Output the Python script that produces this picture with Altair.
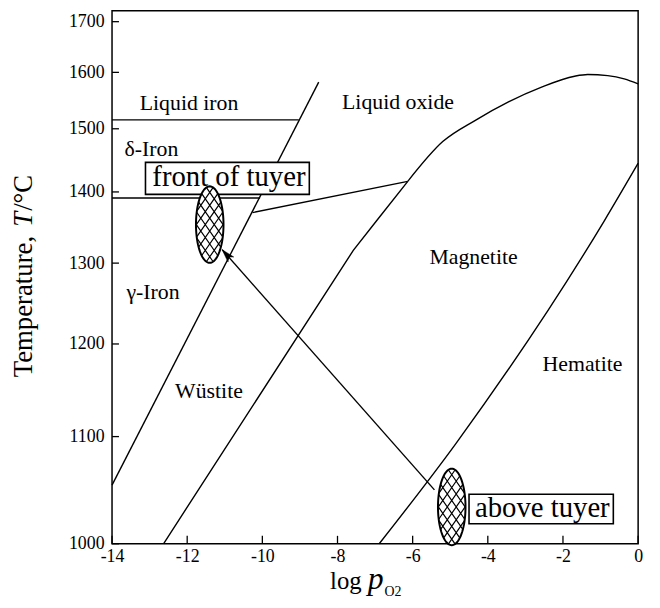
import math
import altair as alt
import pandas as pd

# ---------------- data (log pO2, temperature in deg C) ----------------
A_x = [-14.0, -8.50]
A_T = [1052.8, 1582.0]
LIQ_x = [-14.0, -9.03]
LIQ_T = [1515.0, 1515.0]
DG_x = [-14.0, -10.06]
DG_T = [1391.0, 1391.0]
B_x = [-10.26, -6.13]
B_T = [1369.7, 1416.0]
CL_x = [-12.63, -7.58, -6.96, -6.13]
CL_T = [1000.0, 1317.0, 1358.0, 1416.0]
CC_x = [-6.13, -5.20, -4.32, -3.45, -2.57, -1.69, -1.34, -0.81, -0.37, 0.0]
CC_T = [1416.0, 1478.8, 1514.8, 1546.3, 1572.8, 1592.8, 1596.0, 1594.0, 1588.0, 1578.7]
D_x = [-6.89, -4.85, -0.90, 0.0]
D_T = [1000.0, 1093.0, 1358.0, 1444.0]

ARROW_x = [-5.42, -11.07]
ARROW_T = [1048.4, 1318.0]

ELL_x = [-11.40, -4.96]
ELL_T = [1352.6, 1032.7]

BOX_x = [-13.11, -4.50]
BOX_x2 = [-8.75, -0.66]
BOX_T = [1445.3, 1044.4]
BOX_T2 = [1396.4, 1017.5]
BOX_text = ["front of tuyer", "above tuyer"]
BOX_tx = [-10.89, -2.55]
BOX_tT = [1408.6, 1023.7]

REG_text = ["Liquid iron", "Liquid oxide", "δ-Iron", "γ-Iron", "Wüstite", "Magnetite", "Hematite"]
REG_x = [-11.95, -6.39, -12.95, -12.91, -11.42, -4.38, -1.48]
REG_T = [1531.9, 1533.2, 1454.8, 1254.0, 1139.5, 1298.4, 1169.0]

X_TICKS = [-14, -12, -10, -8, -6, -4, -2, 0]
Y_TICKS = [1000, 1100, 1200, 1300, 1400, 1500, 1600, 1700]

K0 = 273.15


def frame(xs, ts, name):
    return pd.DataFrame({"x": xs, "K": [t + K0 for t in ts], "id": name})


lin_df = pd.concat([
    frame(A_x, A_T, "A"), frame(LIQ_x, LIQ_T, "liq"), frame(DG_x, DG_T, "dg"),
    frame(B_x, B_T, "B"), frame(CL_x, CL_T, "CL"), frame(ARROW_x, ARROW_T, "arrow"),
])
mono_df = pd.concat([frame(CC_x, CC_T, "CC"), frame(D_x, D_T, "D")])
ell_df = frame(ELL_x, ELL_T, "e")
box_df = pd.DataFrame({"x": BOX_x, "x2": BOX_x2,
                       "K": [t + K0 for t in BOX_T], "K2": [t + K0 for t in BOX_T2]})
boxt_df = pd.DataFrame({"x": BOX_tx, "K": [t + K0 for t in BOX_tT], "t": BOX_text})
reg_df = pd.DataFrame({"x": REG_x, "K": [t + K0 for t in REG_T], "t": REG_text})
tip_df = pd.DataFrame({"x": [ARROW_x[1]], "K": [ARROW_T[1] + K0]})
xt_df = pd.DataFrame({"x": X_TICKS})
yt_df = pd.DataFrame({"K": [t + K0 for t in Y_TICKS]})
one = pd.DataFrame({"d": [0]})

# ---------------- glyph shapes ----------------
R = 38.6          # px per unit of the ellipse glyph
RX, RY = 0.36, 1.0
HW, HH = 9.0 / R, 13.0 / R


def ellipse_path(rx, ry, n=80):
    pts = []
    for i in range(n):
        t = 2 * math.pi * i / n
        pts.append((rx * math.cos(t), ry * math.sin(t)))
    return "M" + "L".join(f"{x:.4f},{y:.4f}" for x, y in pts) + "Z"


def hatch_path(rx, ry, w, h):
    segs = []
    B = h / w
    for sgn in (1, -1):
        for k in range(-30, 31):
            c = 2 * k + 1
            A = h * c / 2
            a = 1 / rx ** 2 + B ** 2 / ry ** 2
            b = -2 * A * B / ry ** 2
            cc = A ** 2 / ry ** 2 - 1
            disc = b * b - 4 * a * cc
            if disc <= 1e-9:
                continue
            x1 = (-b - math.sqrt(disc)) / (2 * a)
            x2 = (-b + math.sqrt(disc)) / (2 * a)
            y1 = sgn * (A - B * x1)
            y2 = sgn * (A - B * x2)
            segs.append(f"M{x1:.4f},{y1:.4f}L{x2:.4f},{y2:.4f}")
    return "".join(segs)


ELL_SHAPE = ellipse_path(RX, RY)
HATCH_SHAPE = hatch_path(RX * 0.985, RY * 0.985, HW, HH)
ELL_SIZE = 4 * R * R
ARROW_SHAPE = "M0,0L0.55,1.9L0,1.4L-0.55,1.9Z"

# ---------------- scales / axes ----------------
FONT = "Liberation Serif, Times New Roman, serif"
xs = alt.Scale(domain=[-14, 0], nice=False, zero=False)
ys = alt.Scale(type="pow", exponent=-1, domain=[1273.15, 1996.15], nice=False, zero=False)
xaxis = alt.Axis(values=X_TICKS, title=None, ticks=False, tickSize=0, domain=False, grid=False,
                 labelFont=FONT, labelFontSize=18, labelColor="black", labelPadding=4,
                 labelFlush=False, labelOverlap=False,
                 labelExpr="datum.value == 0 ? '0' : '-' + abs(datum.value)")
yaxis = alt.Axis(values=[t + K0 for t in Y_TICKS], title=None, ticks=False, tickSize=0,
                 domain=False, grid=False, labelFont=FONT, labelFontSize=18,
                 labelColor="black", labelPadding=8, labelFlush=False, labelOverlap=False,
                 labelExpr="'' + round(datum.value - 273.15)")
X = alt.X("x:Q", scale=xs, axis=xaxis)
Y = alt.Y("K:Q", scale=ys, axis=yaxis)

lines = alt.Chart(lin_df).mark_line(color="black", strokeWidth=1.4).encode(
    x=X, y=Y, detail="id:N")
curves = alt.Chart(mono_df).mark_line(color="black", strokeWidth=1.4, interpolate="monotone").encode(
    x=X, y=Y, detail="id:N")
boxes = alt.Chart(box_df).mark_rect(fill="white", stroke="black", strokeWidth=1.6).encode(
    x=X, x2="x2:Q", y=Y, y2="K2:Q")
ell = alt.Chart(ell_df).mark_point(shape=ELL_SHAPE, size=ELL_SIZE, filled=True, fill="white",
                                   stroke="black", strokeWidth=2, opacity=1).encode(x=X, y=Y)
hatch = alt.Chart(ell_df).mark_point(shape=HATCH_SHAPE, size=ELL_SIZE, filled=False,
                                     stroke="black", strokeWidth=1.2, opacity=1).encode(x=X, y=Y)
tip = alt.Chart(tip_df).mark_point(shape=ARROW_SHAPE, size=196, angle=318.5, filled=True,
                                   fill="black", stroke="black", strokeWidth=0.5,
                                   opacity=1).encode(x=X, y=Y)
box_text = alt.Chart(boxt_df).mark_text(font=FONT, fontSize=29, align="center",
                                        baseline="alphabetic", color="black").encode(
    x=X, y=Y, text="t:N")
reg_text = alt.Chart(reg_df).mark_text(font=FONT, fontSize=22, align="center",
                                       baseline="alphabetic", color="black").encode(
    x=X, y=Y, text="t:N")
xticks = alt.Chart(xt_df).mark_rule(color="black", strokeWidth=1.3).encode(
    x=X, y=alt.value(538), y2=alt.value(530))
yticks = alt.Chart(yt_df).mark_rule(color="black", strokeWidth=1.3).encode(
    y=Y, x=alt.value(0), x2=alt.value(7))


def label(txt, x, y, size, style="normal", align="left", angle=0):
    return alt.Chart(one).mark_text(text=txt, font=FONT, fontSize=size, fontStyle=style,
                                    align=align, baseline="alphabetic", angle=angle,
                                    color="black").encode(x=alt.value(x), y=alt.value(y))


xt1 = label("log", 252, 584, 25, align="right")
xt2 = label("p", 258, 584, 32, style="italic")
xt3 = label("O2", 275, 591, 14)
yt1 = label("Temperature,", -81, 370, 27, angle=270)
yt2 = label("T", -81, 218, 27, style="italic", angle=270)
yt3 = label("/°C", -81, 202, 27, angle=270)

chart = alt.layer(
    lines, curves, boxes, ell, hatch, tip, box_text, reg_text, xticks, yticks,
    xt1, xt2, xt3, yt1, yt2, yt3,
).properties(
    width=531, height=538,
    autosize=alt.AutoSizeParams(type="none"),
    padding={"left": 105, "top": 0, "right": 14, "bottom": 54},
    background="white",
).configure_view(stroke="black", strokeWidth=1.5)

chart.save("out.html", embed_options={"renderer": "svg", "actions": False})
